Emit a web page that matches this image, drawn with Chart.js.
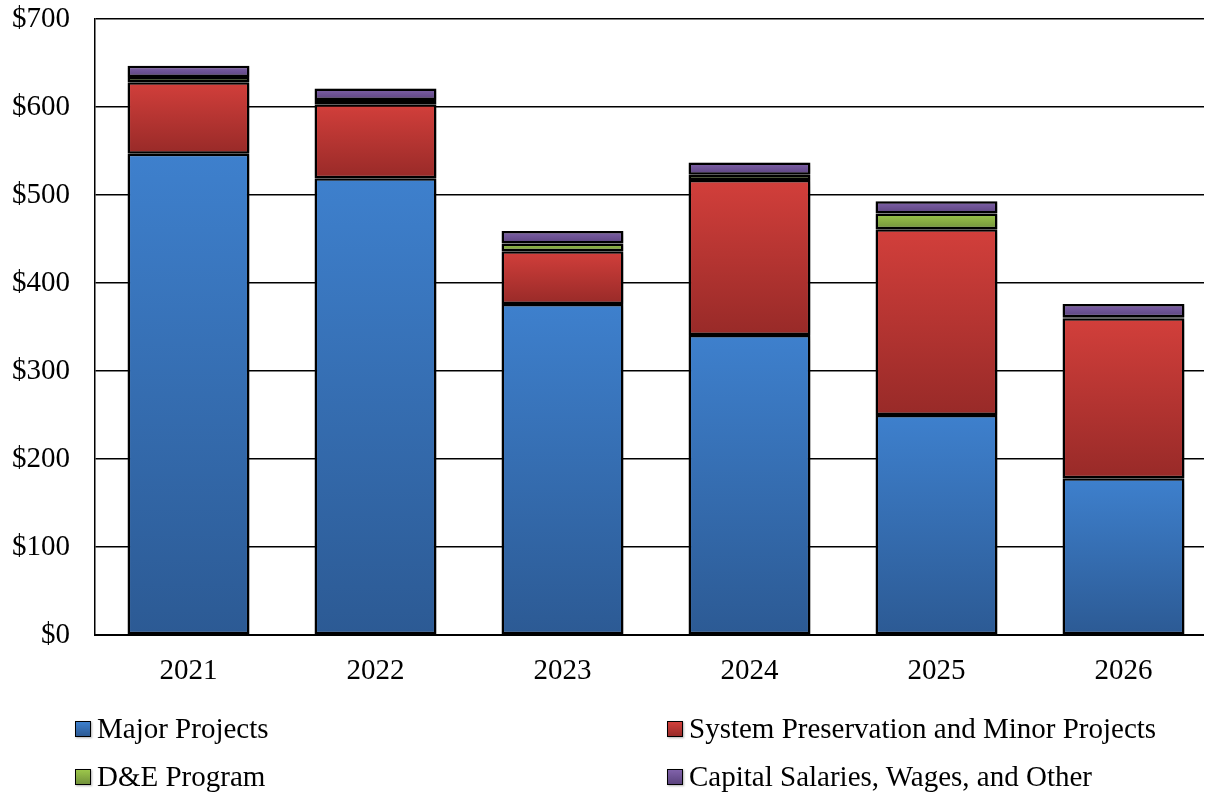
<!DOCTYPE html>
<html>
<head>
<meta charset="utf-8">
<script src="https://cdn.jsdelivr.net/npm/chart.js@4/dist/chart.umd.min.js"></script>
<style>
    html, body { margin: 0; padding: 0; background: #fff; }
    #wrap { position: relative; width: 1217px; height: 795px; }
    .legend-item {
        position: absolute;
        font-family: 'Liberation Serif', 'Times New Roman', serif;
        font-size: 29px;
        color: #000;
        line-height: 32px;
        white-space: nowrap;
    }
    .legend-box {
        display: inline-block;
        width: 14px;
        height: 14px;
        border: 1.5px solid #000;
        margin-right: 6px;
        vertical-align: 1px;
        box-shadow: 1px 1px 2px rgba(0,0,0,0.3);
    }
</style>
</head>
<body>
<div id="wrap">
    <canvas id="chart" width="1217" height="795"></canvas>
</div>
<script>
// 데이터 (단위: 백만 달러)
const years = ['2021', '2022', '2023', '2024', '2025', '2026'];
const majorProjects = [547, 519, 376, 341, 250, 178];
const systemPreservation = [81, 84, 60, 176, 211, 182];
const deProgram = [6, 5, 9, 6, 18, 1];
const capitalSalaries = [13, 13, 14, 14, 14, 15];
const yTicks = [0, 100, 200, 300, 400, 500, 600, 700];

const seriesLabels = ['Major Projects', 'System Preservation and Minor Projects', 'D&E Program', 'Capital Salaries, Wages, and Other'];
const seriesData = [majorProjects, systemPreservation, deProgram, capitalSalaries];
// 그라데이션 색상 [위, 아래]
const seriesColors = [
    ['#3e80cd', '#2c5a94'],
    ['#d23f3b', '#982a28'],
    ['#9cc64b', '#72923a'],
    ['#8062aa', '#5b437e']
];

// 막대 조각마다 세로 그라데이션
function segmentGradient(context) {
    const chart = context.chart;
    const colors = seriesColors[context.datasetIndex];
    if (!chart.chartArea || !chart.scales.y) return colors[0];
    const i = context.dataIndex;
    let base = 0;
    for (let d = 0; d < context.datasetIndex; d++) base += seriesData[d][i];
    const top = base + seriesData[context.datasetIndex][i];
    const y0 = chart.scales.y.getPixelForValue(top);
    const y1 = chart.scales.y.getPixelForValue(base);
    if (!isFinite(y0) || !isFinite(y1) || y0 === y1) return colors[0];
    const g = chart.ctx.createLinearGradient(0, y0, 0, y1);
    g.addColorStop(0, colors[0]);
    g.addColorStop(1, colors[1]);
    return g;
}

// 눈금선은 오른쪽 1203px까지만, 막대에는 그림자
const gridRight = 1203;
const drawPlugin = {
    id: 'gridClipShadow',
    beforeDraw(chart) {
        const ctx = chart.ctx;
        ctx.save();
        ctx.beginPath();
        ctx.rect(0, 0, gridRight + 1, chart.height);
        ctx.clip();
    },
    beforeDatasetsDraw(chart) {
        const ctx = chart.ctx;
        ctx.restore();
        ctx.save();
        ctx.shadowColor = 'rgba(0,0,0,0.28)';
        ctx.shadowBlur = 6;
        ctx.shadowOffsetX = 2;
        ctx.shadowOffsetY = 2;
    },
    afterDatasetsDraw(chart) {
        chart.ctx.restore();
    }
};

const font = { family: "'Liberation Serif', 'Times New Roman', serif", size: 29 };

new Chart(document.getElementById('chart').getContext('2d'), {
    type: 'bar',
    data: {
        labels: years,
        datasets: seriesLabels.map((label, k) => ({
            label: label,
            data: seriesData[k],
            backgroundColor: segmentGradient,
            borderColor: '#000',
            borderWidth: 2.5,
            borderSkipped: false,
            barPercentage: 0.652,
            categoryPercentage: 1.0
        }))
    },
    options: {
        responsive: false,
        animation: false,
        layout: { padding: { top: 19, right: 0, left: 0, bottom: 0 } },
        plugins: {
            legend: { display: false },
            tooltip: { enabled: false }
        },
        scales: {
            x: {
                stacked: true,
                grid: { display: false, drawTicks: false },
                border: { display: true, color: '#000', width: 2 },
                ticks: { font: font, color: '#000', padding: 19 },
                afterFit(scale) {
                    scale.height = 160;
                    scale.paddingLeft = 0;
                    scale.paddingRight = 0;
                }
            },
            y: {
                stacked: true,
                min: 0,
                max: 700,
                afterBuildTicks(scale) { scale.ticks = yTicks.map(v => ({ value: v })); },
                grid: { color: '#000', lineWidth: 1.5, drawTicks: false },
                border: { display: true, color: '#000', width: 1.5 },
                ticks: {
                    font: font,
                    color: '#000',
                    padding: 25,
                    callback: v => '$' + v
                },
                afterFit(scale) {
                    scale.width = 95;
                    scale.paddingTop = 0;
                    scale.paddingBottom = 0;
                }
            }
        }
    },
    plugins: [drawPlugin]
});

// 범례 (2열)
const legendPos = [
    { left: 75, top: 712 },
    { left: 667, top: 712 },
    { left: 75, top: 760 },
    { left: 667, top: 760 }
];
const wrap = document.getElementById('wrap');
seriesLabels.forEach((label, k) => {
    const item = document.createElement('div');
    item.className = 'legend-item';
    item.style.left = legendPos[k].left + 'px';
    item.style.top = legendPos[k].top + 'px';
    const box = document.createElement('span');
    box.className = 'legend-box';
    box.style.background = `linear-gradient(${seriesColors[k][0]}, ${seriesColors[k][1]})`;
    item.appendChild(box);
    item.appendChild(document.createTextNode(label));
    wrap.appendChild(item);
});
</script>
</body>
</html>
